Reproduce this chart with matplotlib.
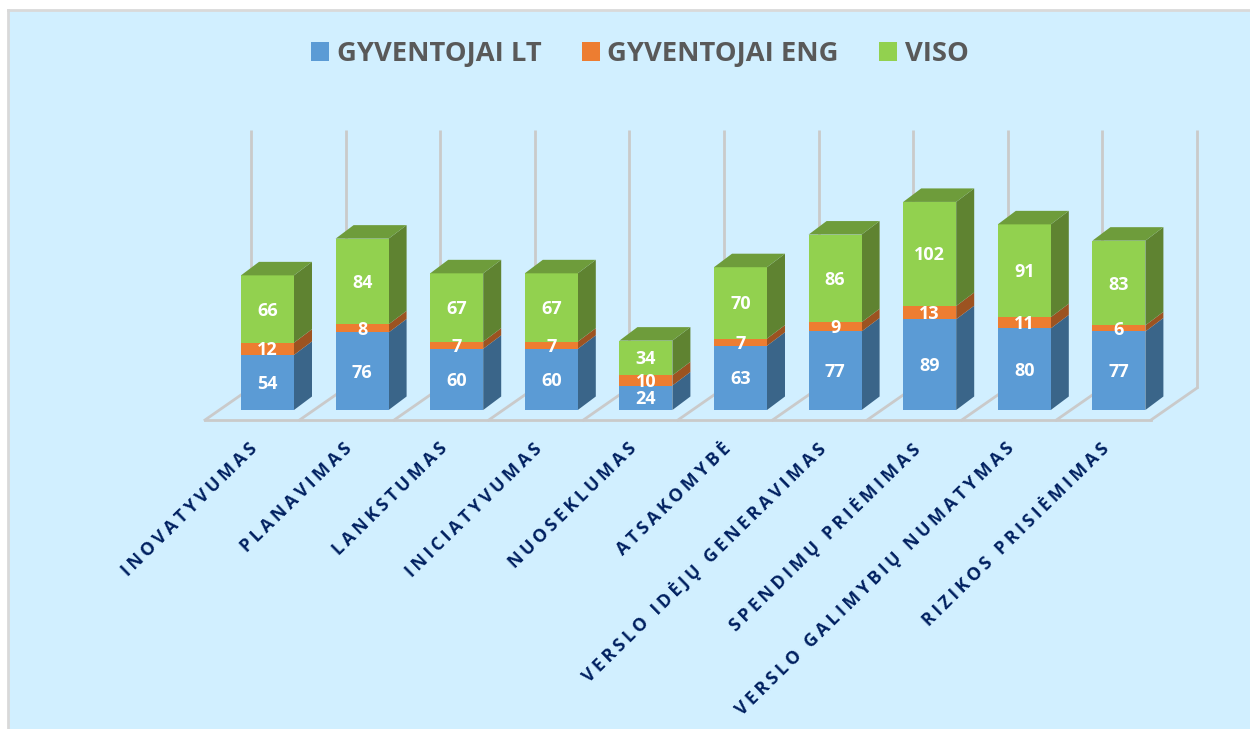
import matplotlib
matplotlib.use("Agg")
import matplotlib.pyplot as plt
from matplotlib.patches import Polygon, Patch

CATEGORIES = ["INOVATYVUMAS", "PLANAVIMAS", "LANKSTUMAS", "INICIATYVUMAS", "NUOSEKLUMAS", "ATSAKOMYBĖ",
              "VERSLO IDĖJŲ GENERAVIMAS", "SPENDIMŲ PRIĖMIMAS", "VERSLO GALIMYBIŲ NUMATYMAS", "RIZIKOS PRISIĖMIMAS"]
GYVENTOJAI_LT = [54, 76, 60, 60, 24, 63, 77, 89, 80, 77]
GYVENTOJAI_ENG = [12, 8, 7, 7, 10, 7, 9, 13, 11, 6]
VISO = [66, 84, 67, 67, 34, 70, 86, 102, 91, 83]
SERIES_NAMES = ["GYVENTOJAI LT", "GYVENTOJAI ENG", "VISO"]

FRONT = ["#5B9BD5", "#ED7D31", "#92D14F"]
SIDE = ["#3A6589", "#9C5321", "#5F8331"]
TOP_COLOR = "#6E9C3B"
BACKGROUND = "#D1EFFF"
GRID = "#CACACA"
NAVY = "#002060"

# pixel layout of the plot area
W, H = 1250, 729
LEFT, TOP = 8, 10
CENTER0, STEP = 267.5, 94.6
BASE_Y, PX_PER_UNIT = 410, 1.02

fig = plt.figure(figsize=(W / 100, H / 100), dpi=100, facecolor="white")
ax = fig.add_axes([LEFT / W, 0, (W - LEFT) / W, (H - TOP) / H], facecolor=BACKGROUND)
ax.set_xlim((LEFT - CENTER0) / STEP, (W - CENTER0) / STEP)
ax.set_ylim((BASE_Y - H) / PX_PER_UNIT, (BASE_Y - TOP) / PX_PER_UNIT)
ax.set_xticks([])
ax.set_yticks([])
for name, spine in ax.spines.items():
    spine.set_visible(name in ("top", "left"))
    spine.set_color("#D9D9D9")
    spine.set_linewidth(2)

bar_w = 53 / STEP
depth_x = 18 / STEP
depth_y = 13.5 / PX_PER_UNIT
wall_off = -16.5 / STEP
front_off = -62.5 / STEP
floor_front = -10 / PX_PER_UNIT
floor_back = 22 / PX_PER_UNIT
wall_top = 280 / PX_PER_UNIT
n = len(CATEGORIES)

# back walls and floor
for i in range(n + 1):
    ax.plot([i + wall_off] * 2, [floor_back, wall_top], color=GRID, lw=2, zorder=1, solid_capstyle="butt")
    ax.plot([i + front_off, i + wall_off], [floor_front, floor_back], color=GRID, lw=2, zorder=1)
ax.plot([front_off, n + front_off], [floor_front, floor_front], color=GRID, lw=2, zorder=1)

# stacked bars with a drawn depth
series = [GYVENTOJAI_LT, GYVENTOJAI_ENG, VISO]
for i in range(n):
    right = i + bar_w / 2
    bottom = 0
    for s, values in enumerate(series):
        v = values[i]
        ax.add_patch(Polygon([(right, bottom), (right + depth_x, bottom + depth_y),
                              (right + depth_x, bottom + v + depth_y), (right, bottom + v)],
                             facecolor=SIDE[s], edgecolor="none", zorder=3))
        ax.bar(i, v, bar_w, bottom=bottom, color=FRONT[s], linewidth=0, zorder=3)
        ax.text(i, bottom + v / 2 + 0.5, str(v), ha="center", va="center_baseline", color="white",
                family="Open Sans", weight="bold", fontsize=13, zorder=5)
        bottom += v
    ax.add_patch(Polygon([(right - bar_w, bottom), (right, bottom), (right + depth_x, bottom + depth_y),
                          (right - bar_w + depth_x, bottom + depth_y)],
                         facecolor=TOP_COLOR, edgecolor="none", zorder=3))
    # tracked-out category label
    ax.text(i - 12.5 / STEP, -36 / PX_PER_UNIT, "\u2009".join(CATEGORIES[i]), rotation=44.4, rotation_mode="anchor",
            ha="right", va="center", color=NAVY, family=["Open Sans", "DejaVu Sans"], weight="bold", fontsize=12.75)

handles = [Patch(facecolor=c, edgecolor="none") for c in FRONT]
leg = ax.legend(handles, SERIES_NAMES, ncol=3, frameon=False, loc="center",
                bbox_to_anchor=(640 / W, 1 - 54 / H), bbox_transform=fig.transFigure,
                prop={"family": "Open Sans", "weight": "bold", "size": 19.7}, labelcolor="#595959",
                handlelength=0.65, handleheight=0.65, handletextpad=0.29, columnspacing=1.48, borderpad=0)

fig.savefig("out.png", dpi=100, facecolor=fig.get_facecolor())
plt.close(fig)
